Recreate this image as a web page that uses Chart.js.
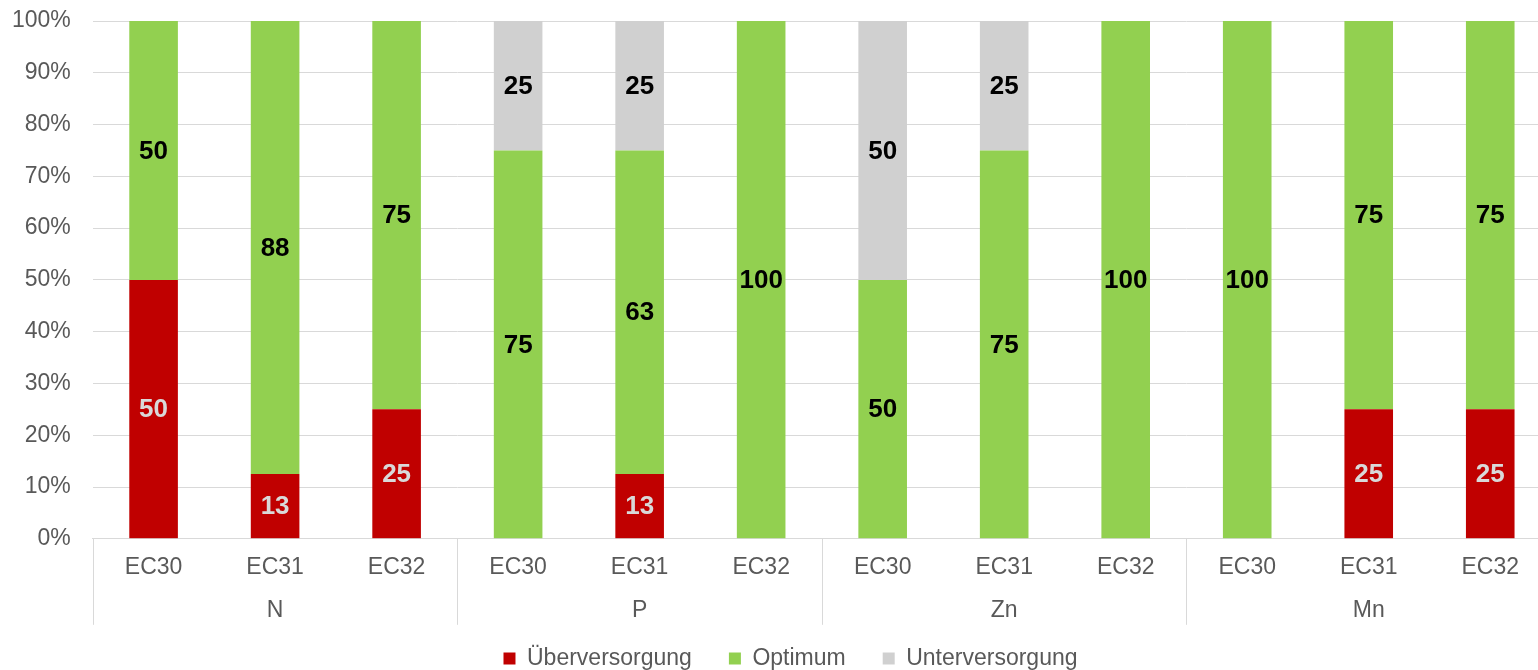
<!DOCTYPE html>
<html>
<head>
<meta charset="utf-8">
<script src="https://cdn.jsdelivr.net/npm/chart.js@4.4.1/dist/chart.umd.min.js"></script>
<style>
  html, body { margin: 0; padding: 0; background: #fff; overflow: hidden; }
  /* the original plot runs a little past the right edge of the picture */
  #wrap { width: 1551px; height: 670px; }
</style>
</head>
<body>
<div id="wrap"><canvas id="chart"></canvas></div>
<script>
const categories = ["EC30", "EC31", "EC32", "EC30", "EC31", "EC32", "EC30", "EC31", "EC32", "EC30", "EC31", "EC32"];
const groups = ["N", "P", "Zn", "Mn"];
const ueberversorgung = [50, 12.5, 25, 0, 12.5, 0, 0, 0, 0, 0, 25, 25];
const optimum = [50, 87.5, 75, 75, 62.5, 100, 50, 75, 100, 100, 75, 75];
const unterversorgung = [0, 0, 0, 25, 25, 0, 50, 25, 0, 0, 0, 0];
const yTicks = [0, 10, 20, 30, 40, 50, 60, 70, 80, 90, 100];

const FONT = "'Liberation Sans', Arial, sans-serif";
const TEXT = "#595959";
const GRID = "#d9d9d9";

// values written into the bars
const barLabels = {
    id: "barLabels",
    afterDatasetsDraw(chart) {
        const ctx = chart.ctx;
        ctx.save();
        ctx.font = "bold 26px " + FONT;
        ctx.textAlign = "center";
        ctx.textBaseline = "middle";
        chart.data.datasets.forEach((ds, i) => {
            const meta = chart.getDatasetMeta(i);
            meta.data.forEach((bar, j) => {
                const v = ds.data[j];
                if (!v) return;
                ctx.fillStyle = ds.labelColor;
                ctx.fillText(Math.round(v), bar.x, (bar.y + bar.base) / 2 + 1);
            });
        });
        ctx.restore();
    },
};

// vertical lines between the groups under the axis
const groupLines = {
    id: "groupLines",
    afterDraw(chart) {
        const x = chart.scales.x;
        const step = x.getPixelForValue(1) - x.getPixelForValue(0);
        const ctx = chart.ctx;
        ctx.save();
        ctx.strokeStyle = GRID;
        ctx.lineWidth = 1;
        for (let i = 0; i < categories.length; i += 3) {
            const px = Math.round(x.getPixelForValue(i) - step / 2) + 0.5;
            ctx.beginPath();
            ctx.moveTo(px, chart.chartArea.bottom);
            ctx.lineTo(px, chart.chartArea.bottom + 86);
            ctx.stroke();
        }
        ctx.restore();
    },
};

// legend: wide item spacing but less room taken above the axis labels
const LEGEND_SQUEEZE = 21;
const LEGEND_SHIFT = 20;
const legendTweak = {
    id: "legendTweak",
    beforeLayout(chart) {
        const lg = chart.legend;
        if (!lg || lg._tweaked) return;
        const fit = lg.fit;
        lg.fit = function () {
            fit.call(this);
            this.height -= LEGEND_SQUEEZE;
        };
        lg._tweaked = true;
    },
    afterLayout(chart) {
        const lg = chart.legend;
        if (!lg) return;
        lg.top -= LEGEND_SQUEEZE;
        lg.left += LEGEND_SHIFT;
        lg.right += LEGEND_SHIFT;
    },
};

new Chart(document.getElementById("chart").getContext("2d"), {
    type: "bar",
    data: {
        labels: categories,
        datasets: [
            { label: "Überversorgung", data: ueberversorgung, backgroundColor: "#c00000", labelColor: "#d9d9d9" },
            { label: "Optimum", data: optimum, backgroundColor: "#92d050", labelColor: "#000000" },
            { label: "Unterversorgung", data: unterversorgung, backgroundColor: "#d0d0d0", labelColor: "#000000" },
        ],
    },
    options: {
        responsive: true,
        maintainAspectRatio: false,
        animation: false,
        datasets: { bar: { categoryPercentage: 1, barPercentage: 0.4 } },
        layout: { padding: { left: -10, right: 0, top: 21, bottom: -10 } },
        scales: {
            x: {
                stacked: true,
                grid: { display: false },
                border: { display: true, color: GRID, width: 1 },
                ticks: { color: TEXT, font: { family: FONT, size: 23 }, padding: 7, maxRotation: 0, autoSkip: false },
            },
            x2: {
                type: "category",
                labels: groups,
                position: "bottom",
                offset: true,
                grid: { display: false },
                border: { display: false },
                ticks: { color: TEXT, font: { family: FONT, size: 23 }, padding: 0 },
                afterFit(axis) { axis.height += 7; },
            },
            y: {
                stacked: true,
                min: 0,
                max: 100,
                afterBuildTicks(axis) { axis.ticks = yTicks.map(v => ({ value: v })); },
                afterFit(axis) { axis.paddingTop = 0; },
                grid: { color: GRID, drawTicks: false },
                border: { display: false },
                ticks: { color: TEXT, font: { family: FONT, size: 23 }, padding: 22, callback: v => v + "%" },
            },
        },
        plugins: {
            legend: {
                position: "bottom",
                labels: { color: TEXT, font: { family: FONT, size: 23 }, boxWidth: 12, boxHeight: 12, padding: 37 },
            },
            tooltip: { enabled: false },
        },
    },
    plugins: [barLabels, groupLines, legendTweak],
});
</script>
</body>
</html>
